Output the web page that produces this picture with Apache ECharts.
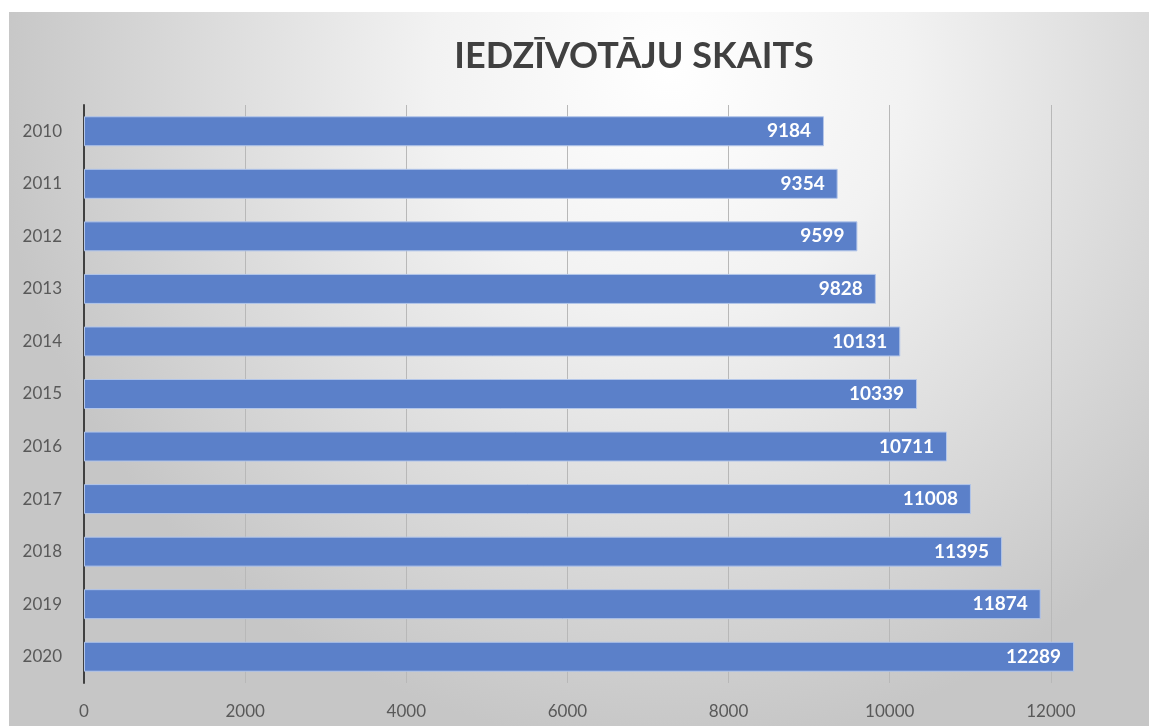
<!DOCTYPE html>
<html>
<head>
<meta charset="utf-8">
<script src="https://cdn.jsdelivr.net/npm/echarts@6/dist/echarts.min.js"></script>
<style>
  html, body { margin: 0; padding: 0; background: #ffffff; }
  #chart { position: absolute; left: 9px; top: 12px; width: 1140px; height: 714px; }
</style>
</head>
<body>
<div id="chart"></div>
<script>
  var years = ['2010', '2011', '2012', '2013', '2014', '2015', '2016', '2017', '2018', '2019', '2020'];
  var population = [9184, 9354, 9599, 9828, 10131, 10339, 10711, 11008, 11395, 11874, 12289];
  var titleText = 'IEDZĪVOTĀJU SKAITS';

  var myChart = echarts.init(document.getElementById('chart'));
  myChart.setOption({
    backgroundColor: new echarts.graphic.RadialGradient(0.58, 0.08, 0.95, [
      { offset: 0, color: '#ffffff' },
      { offset: 0.35, color: '#f2f2f2' },
      { offset: 1, color: '#c6c6c6' }
    ]),
    title: {
      text: titleText,
      left: 620,
      top: 21,
      textAlign: 'center',
      textStyle: {
        fontFamily: 'Lato',
        fontWeight: 'bold',
        fontSize: 36,
        color: '#404040'
      }
    },
    grid: {
      left: 75,
      right: -63,
      top: 93,
      bottom: 43,
      outerBoundsMode: 'none'
    },
    xAxis: {
      type: 'value',
      min: 0,
      max: 14000,
      interval: 2000,
      axisLine: { show: false },
      axisTick: { show: false },
      axisLabel: {
        margin: 20,
        fontFamily: 'Lato',
        fontSize: 17,
        color: '#595959',
        formatter: function (v) { return String(v); }
      },
      splitLine: {
        show: true,
        lineStyle: { color: '#b8b8b8', width: 1 }
      }
    },
    yAxis: {
      type: 'category',
      inverse: true,
      data: years,
      axisLine: {
        show: true,
        lineStyle: { color: '#404040', width: 2 }
      },
      axisTick: { show: false },
      axisLabel: {
        margin: 22,
        fontFamily: 'Lato',
        fontSize: 17,
        color: '#595959'
      }
    },
    series: [{
      type: 'bar',
      data: population,
      barWidth: 30, //bar thickness
      itemStyle: {
        color: '#5b80c9',
        borderColor: '#b3c6ea',
        borderWidth: 1
      },
      label: {
        show: true,
        position: 'insideRight',
        distance: 13,
        fontFamily: 'Lato',
        fontWeight: 'bold',
        fontSize: 19,
        color: '#ffffff'
      }
    }]
  });
</script>
</body>
</html>
